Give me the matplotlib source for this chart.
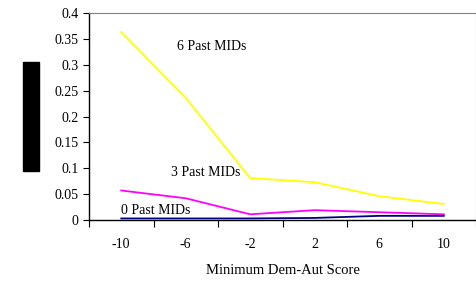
import numpy as np
import matplotlib
matplotlib.use("Agg")
import matplotlib.pyplot as plt
from matplotlib.patches import Rectangle

plt.rcParams["font.family"] = ["Liberation Serif", "DejaVu Serif"]

scores = ["-10", "-6", "-2", "2", "6", "10"]
mids6 = [0.363, 0.236, 0.081, 0.073, 0.046, 0.031]
mids3 = [0.057, 0.042, 0.011, 0.019, 0.015, 0.011]
mids0 = [0.003, 0.003, 0.003, 0.004, 0.008, 0.008]

fig = plt.figure(figsize=(4.77, 2.85), dpi=100)
ax = fig.add_axes([89 / 477, 65 / 285, 387 / 477, 207 / 285])

x = np.arange(len(scores)) + 0.5
ax.plot(x, mids6, color="#FFFF00", lw=1.3)
ax.plot(x, mids3, color="#FF00FF", lw=1.3)
ax.plot(x, mids0, color="#000080", lw=1.3)

fs = 10
ax.text(1.36, 0.336, "6 Past MIDs", fontsize=fs, va="center")
ax.text(1.27, 0.092, "3 Past MIDs", fontsize=fs, va="center")
ax.text(0.49, 0.019, "0 Past MIDs", fontsize=fs, va="center")

ax.set_xlim(0, 6)
ax.set_ylim(0, 0.4)
ax.set_xticks(np.arange(7))
ax.set_xticklabels([])
ax.set_xticks(x, minor=True)
ax.set_xticklabels(scores, minor=True, fontsize=fs)
ax.tick_params(axis="x", which="major", direction="out", length=5, width=0.8)
ax.tick_params(axis="x", which="minor", length=0, pad=13)
ax.set_yticks(np.arange(0, 0.41, 0.05))
ax.set_yticklabels(["0", "0.05", "0.1", "0.15", "0.2", "0.25", "0.3", "0.35", "0.4"], fontsize=fs)
ax.tick_params(axis="y", direction="out", length=4, width=0.8)

ax.set_xlabel("Minimum Dem-Aut Score", fontsize=10.5, labelpad=9)

for s in ["top", "right"]:
    ax.spines[s].set_color("#808080")
for s in ["left", "bottom"]:
    ax.spines[s].set_color("black")
    ax.spines[s].set_linewidth(1.0)

# garbled y-axis label in the original renders as a black block
fig.patches.append(Rectangle((23 / 477, (285 - 171) / 285), 16 / 477, 109 / 285,
                             transform=fig.transFigure, color="black"))

fig.savefig("out.png", dpi=100)
